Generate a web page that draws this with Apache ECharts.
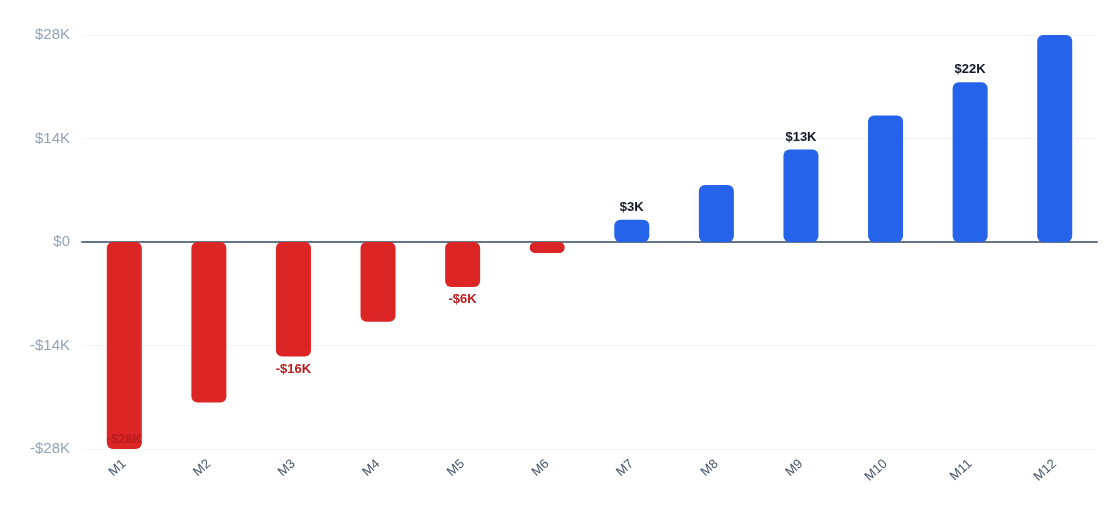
<!DOCTYPE html>
<html>
<head>
<meta charset="UTF-8">
<title>Monthly net</title>
<script src="https://cdn.jsdelivr.net/npm/echarts@6/dist/echarts.min.js"></script>
<style>
  html, body { margin: 0; padding: 0; background: #fff; }
  #chart { width: 1120px; height: 531px; }
</style>
</head>
<body>
<div id="chart"></div>
<script>
// data (in $K)
var months = ['M1','M2','M3','M4','M5','M6','M7','M8','M9','M10','M11','M12'];
var values = [-28, -21.7, -15.5, -10.8, -6.1, -1.5, 3.0, 7.7, 12.5, 17.1, 21.6, 28];
var labelled = [0, 2, 4, 6, 8, 10]; // every other month gets a label
var yTicks = [-28, -14, 0, 14, 28];

function money(v) {
  var r = Math.round(Math.abs(v));
  return (v < 0 ? '-$' : '$') + r + 'K';
}

var barData = values.map(function (v, i) {
  var neg = v < 0;
  var item = {
    value: v,
    itemStyle: { color: neg ? '#dc2626' : '#2563eb', borderRadius: 6 },
    label: {
      show: labelled.indexOf(i) >= 0,
      position: neg ? 'bottom' : 'top',
      color: neg ? '#b91c1c' : '#111827'
    }
  };
  // lowest bar: label doesn't fit below, so it sits inside
  if (v <= yTicks[0]) { item.label.position = 'insideBottom'; item.label.distance = 3; }
  return item;
});

var chart = echarts.init(document.getElementById('chart'));
chart.setOption({
  animation: false,
  textStyle: { fontFamily: 'Helvetica Neue, Liberation Sans, Arial, sans-serif' },
  grid: { left: 82, right: 23, top: 35, bottom: 82 },
  xAxis: {
    type: 'category',
    data: months,
    axisLine: { onZero: true, lineStyle: { color: '#64748b', width: 2 } },
    axisTick: { show: false },
    axisLabel: { rotate: 42, color: '#475569', fontSize: 13, margin: 13, interval: 0 }
  },
  yAxis: {
    type: 'value',
    min: yTicks[0],
    max: yTicks[yTicks.length - 1],
    interval: 14,
    axisLine: { show: false },
    axisTick: { show: false },
    splitLine: { lineStyle: { color: '#f1f5f9', width: 1 } },
    axisLabel: {
      color: '#94a3b8', fontSize: 15, margin: 12,
      formatter: function (v) { return v === 0 ? '$0' : money(v); }
    }
  },
  series: [{
    type: 'bar',
    data: barData,
    barWidth: 35,
    label: {
      fontSize: 13, fontWeight: 'bold', distance: 6,
      formatter: function (p) { return money(p.value); }
    }
  }]
});
</script>
</body>
</html>
